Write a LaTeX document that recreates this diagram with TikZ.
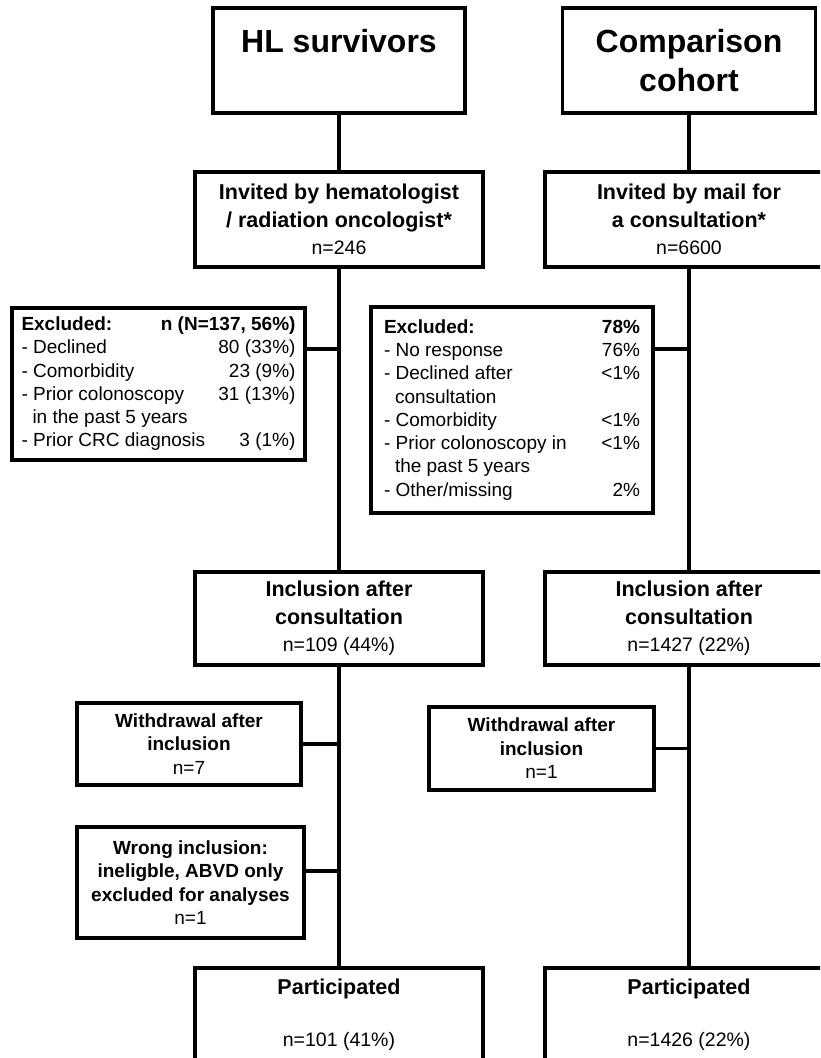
\documentclass[tikz,border=0pt]{standalone}
\usepackage{fontspec}
\setmainfont{Liberation Sans}
\usetikzlibrary{positioning,calc}

\newcommand{\countline}[1]{{\fontsize{19.5}{27.5}\selectfont\mdseries #1}}
\newlength{\exw}
\newcommand{\exrow}[2]{\makebox[\exw][s]{#1\hfill #2}}

\begin{document}
\begin{tikzpicture}[x=1pt,y=-1pt,
box/.style={draw,line width=3.6pt,align=center,inner sep=0pt,fill=white},
head/.style={box,font=\fontsize{32}{39}\selectfont\bfseries},
stage/.style={box,minimum width=288pt,font=\fontsize{21.5}{27.5}\selectfont\bfseries},
side/.style={box,font=\fontsize{19}{23.4}\selectfont\bfseries},
excl/.style={box,font=\fontsize{19}{23.3}\selectfont},
link/.style={line width=3.6pt}]
\useasboundingbox (0,0) rectangle (820,1058);
\clip (0,0) rectangle (820,1058);
% cohorts
\node[head,minimum width=252pt,minimum height=105pt] (hl) at (339,60.5) {HL survivors\\\mbox{}};
\node[head,minimum width=253pt,minimum height=105pt] (cmp) at (689,60.5) {Comparison\\cohort};
% invitation
\node[stage,minimum height=95pt] (inv1) at (339,219.5) {Invited by hematologist\\/ radiation oncologist*\\\countline{n=246}};
\node[stage,minimum height=95pt] (inv2) at (689,219.5) {Invited by mail for\\a consultation*\\\countline{n=6600}};
% exclusions
\node[excl,minimum width=293pt,minimum height=152pt] (ex1) at (158.5,384) {\setlength{\exw}{274pt}%
\begin{tabular}{@{}l@{}}
\exrow{\textbf{Excluded:}}{\textbf{n (N=137, 56\%)}}\\
\exrow{- Declined}{80 (33\%)}\\
\exrow{- Comorbidity}{23 (9\%)}\\
\exrow{- Prior colonoscopy}{31 (13\%)}\\
\hspace*{11pt}in the past 5 years\\
\exrow{- Prior CRC diagnosis}{3 (1\%)}
\end{tabular}};
\node[excl,minimum width=282pt,minimum height=206pt] (ex2) at (512,410) {\setlength{\exw}{256pt}%
\begin{tabular}{@{}l@{}}
\exrow{\textbf{Excluded:}}{\textbf{78\%}}\\
\exrow{- No response}{76\%}\\
\exrow{- Declined after}{<1\%}\\
\hspace*{11pt}consultation\\
\exrow{- Comorbidity}{<1\%}\\
\exrow{- Prior colonoscopy in}{<1\%}\\
\hspace*{11pt}the past 5 years\\
\exrow{- Other/missing}{2\%}
\end{tabular}};
% inclusion
\node[stage,minimum height=93pt] (inc1) at (339,618.5) {Inclusion after\\consultation\\\countline{n=109 (44\%)}};
\node[stage,minimum height=93pt] (inc2) at (689,618.5) {Inclusion after\\consultation\\\countline{n=1427 (22\%)}};
\node[side,minimum width=224pt,minimum height=82pt] (wd1) at (189,744) {Withdrawal after\\inclusion\\\mdseries n=7};
\node[side,minimum width=225pt,minimum height=83pt] (wd2) at (541.5,748.5) {Withdrawal after\\inclusion\\\mdseries n=1};
\node[side,minimum width=227pt,minimum height=111pt] (wr) at (190.5,882.5) {Wrong inclusion:\\ineligble, ABVD only\\excluded for analyses\\\mdseries n=1};
% participation
\node[stage,minimum height=94pt] (par1) at (339,1015) {Participated\\[24.5pt]\countline{n=101 (41\%)}};
\node[stage,minimum height=94pt] (par2) at (689,1015) {Participated\\[24.5pt]\countline{n=1426 (22\%)}};
\coordinate (j1) at (339,349);
\coordinate (j2) at (689,349);
\coordinate (j3) at (339,871);
\draw[link] (hl)--(inv1);\draw[link] (inv1)--(inc1);\draw[link] (inc1)--(par1);
\draw[link] (cmp)--(inv2);\draw[link] (inv2)--(inc2);\draw[link] (inc2)--(par2);
\draw[link] (ex1.east |- j1)--(j1);
\draw[link] (ex2.east |- j2)--(j2);
\draw[link] (wd1)--(wd1 -| inc1);
\draw[link] (wd2)--(wd2 -| inc2);
\draw[link] (wr.east |- j3)--(j3);
\end{tikzpicture}
\end{document}
